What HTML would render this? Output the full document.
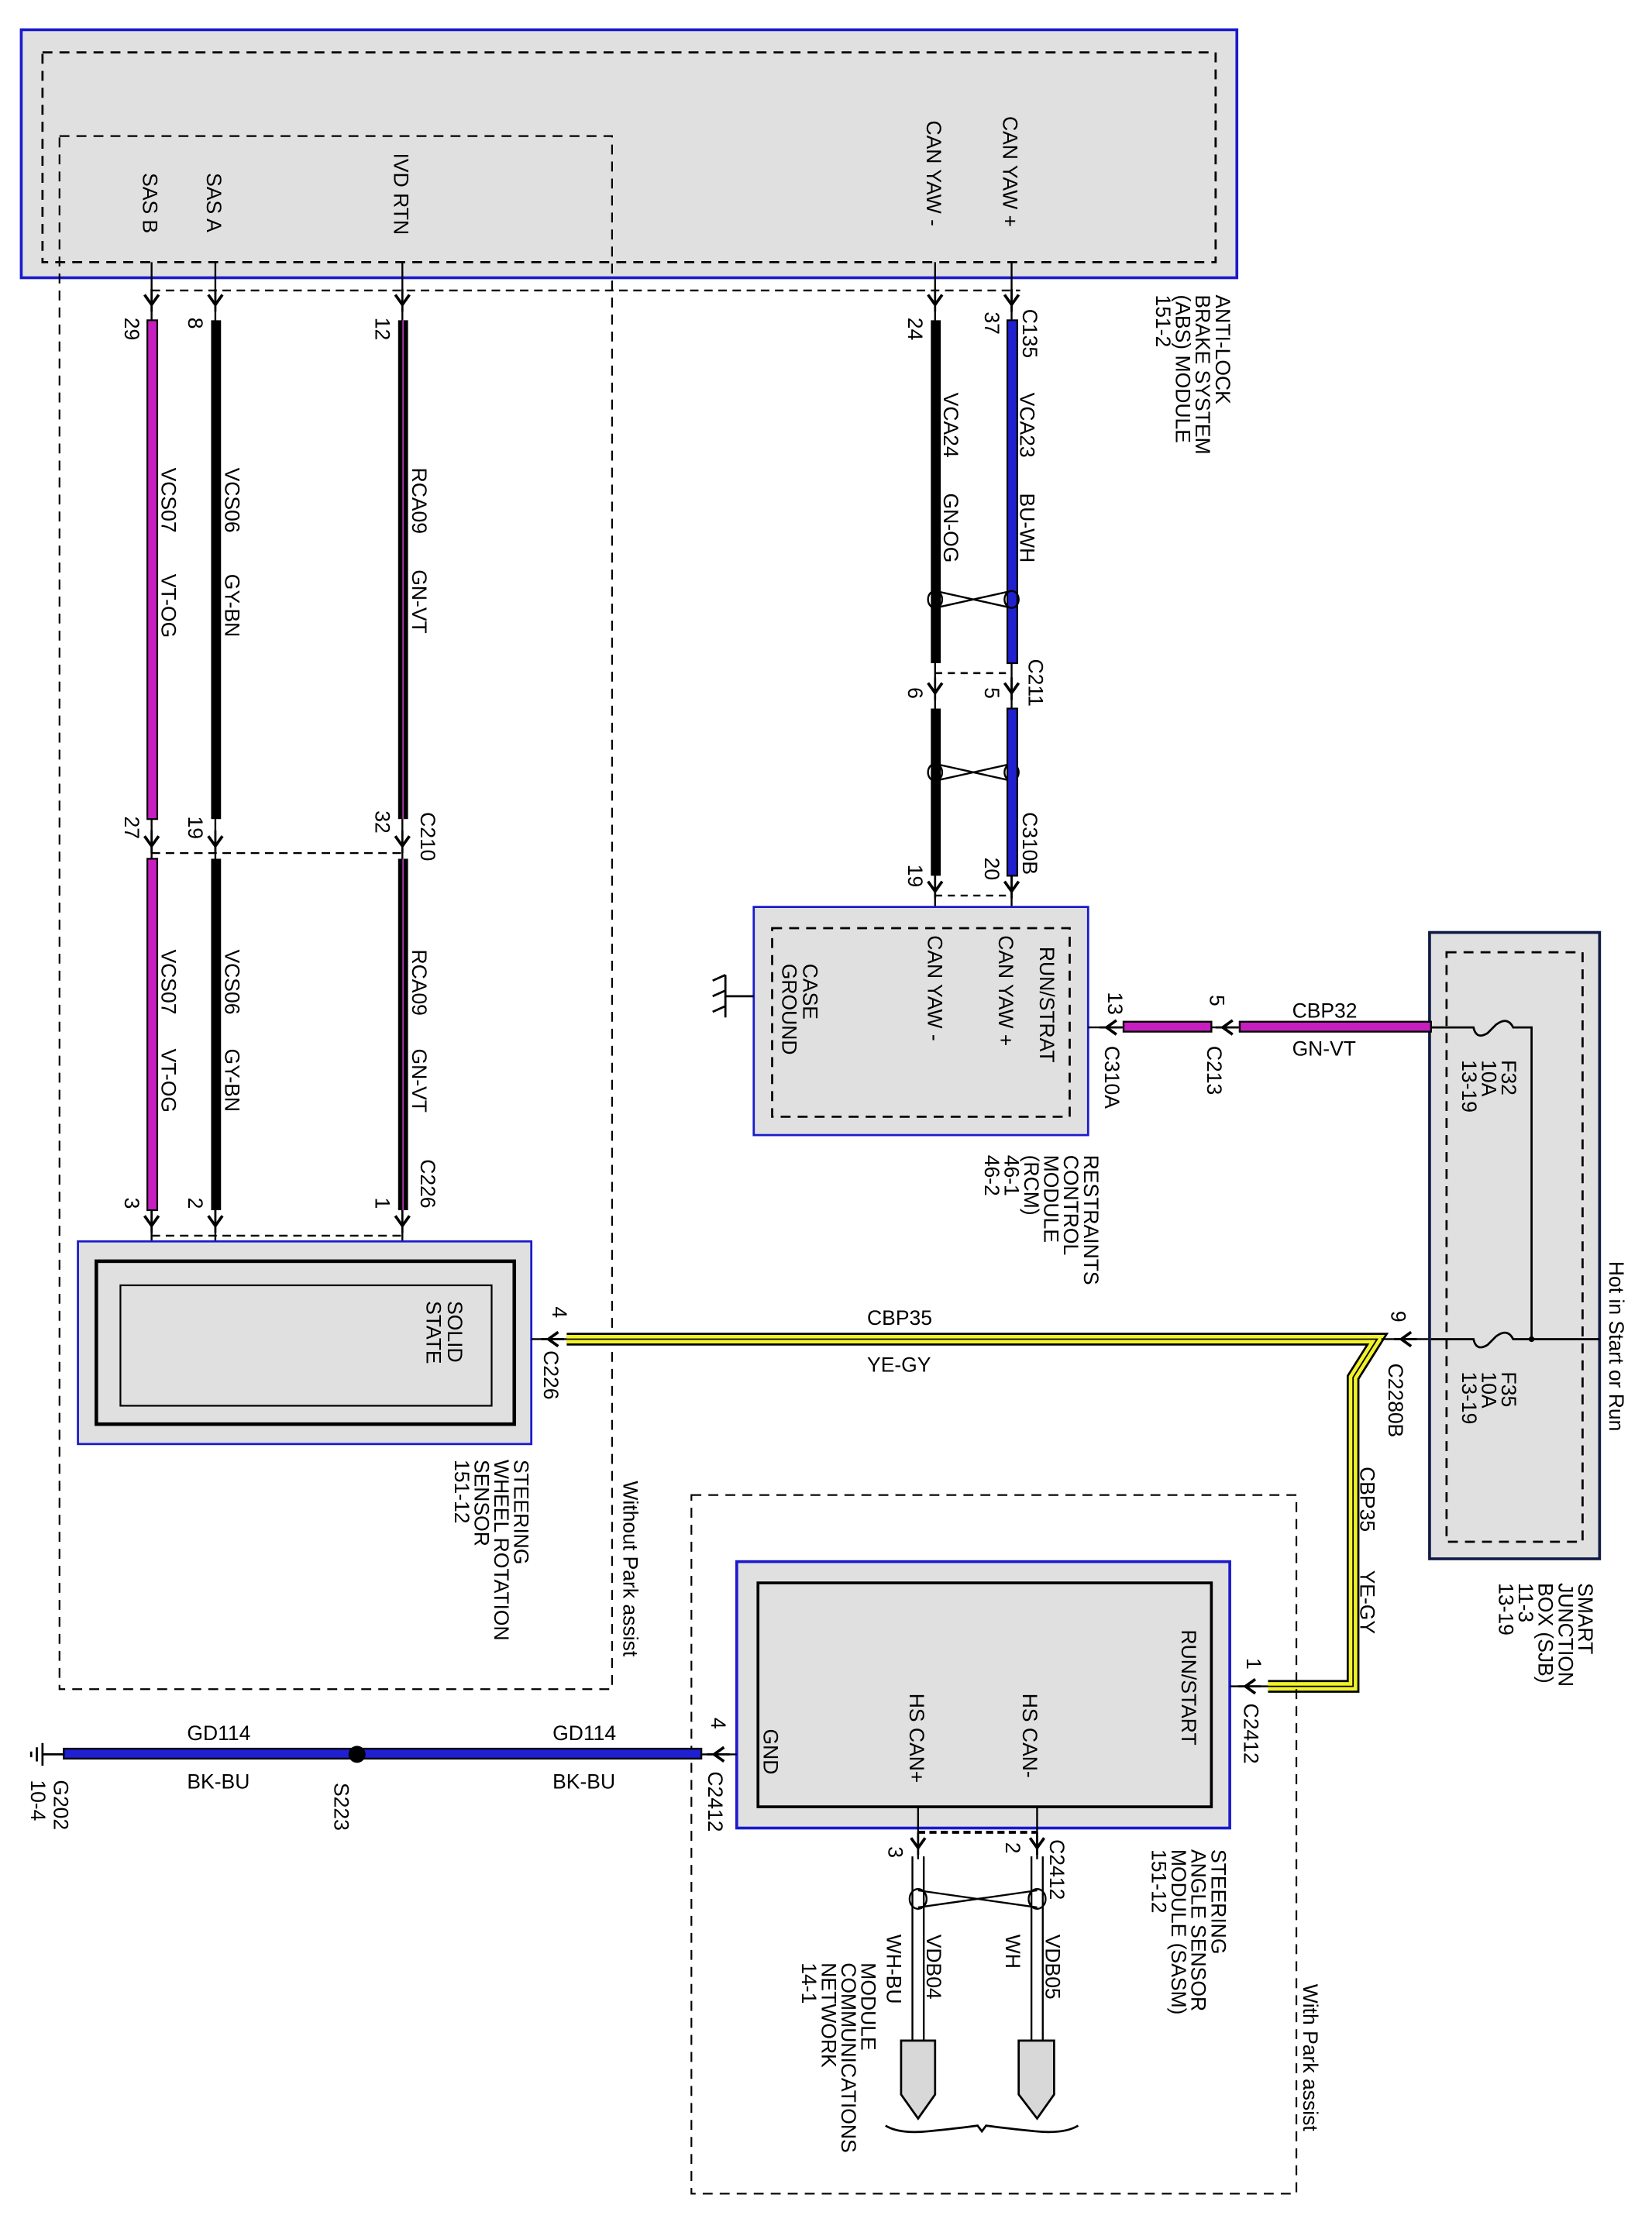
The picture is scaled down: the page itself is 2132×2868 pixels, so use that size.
<!DOCTYPE html>
<html><head><meta charset="utf-8"><style>
html,body{margin:0;padding:0;background:#fff}
svg{display:block}
text{font-family:"Liberation Sans",Arial,sans-serif;font-size:14.5px;fill:#000}
</style></head><body>
<svg width="2132" height="2868" viewBox="0 0 1166 1568" preserveAspectRatio="none" xmlns="http://www.w3.org/2000/svg">
<defs>
<g id="ar"><path d="M-5,-8 L0,-1 L5,-8" fill="none" stroke="#000" stroke-width="2"/><line x1="0" y1="-12" x2="0" y2="4" stroke="#000" stroke-width="1.5"/></g>
<g id="al"><path d="M8,-5 L1,0 L8,5" fill="none" stroke="#000" stroke-width="2"/><line x1="-4" y1="0" x2="12" y2="0" stroke="#000" stroke-width="1.5"/></g>
</defs>

<rect x="15" y="21" width="858" height="175" fill="#e0e0e0" stroke="#1a1acc" stroke-width="2"/>
<rect x="30" y="37" width="828" height="148" fill="none" stroke="#000" stroke-width="1.5" stroke-dasharray="7,5"/>
<rect x="42" y="96" width="390" height="1096" fill="none" stroke="#000" stroke-width="1.2" stroke-dasharray="7,5"/>
<line x1="107" y1="205" x2="720" y2="205" stroke="#000" stroke-width="1.3" stroke-dasharray="6,4"/>

<g>
<text transform="translate(101,122) rotate(90)">SAS B</text>
<text transform="translate(146,122) rotate(90)">SAS A</text>
<text transform="translate(278,108) rotate(90)">IVD RTN</text>
<text transform="translate(654,85) rotate(90)">CAN YAW -</text>
<text transform="translate(708,82) rotate(90)">CAN YAW +</text>
</g>
<g stroke="#000" stroke-width="1.3">
<line x1="107" y1="185" x2="107" y2="228"/><line x1="152" y1="185" x2="152" y2="228"/><line x1="284" y1="185" x2="284" y2="228"/>
<line x1="660" y1="185" x2="660" y2="228"/><line x1="714" y1="185" x2="714" y2="228"/>
</g>
<use href="#ar" x="107" y="216"/><use href="#ar" x="152" y="216"/><use href="#ar" x="284" y="216"/><use href="#ar" x="660" y="216"/><use href="#ar" x="714" y="216"/>
<text transform="translate(88,224) rotate(90)">29</text>
<text transform="translate(133,224) rotate(90)">8</text>
<text transform="translate(265,224) rotate(90)">12</text>
<text transform="translate(641,224) rotate(90)">24</text>
<text transform="translate(695,220) rotate(90)">37</text>
<text transform="translate(722,218) rotate(90)">C135</text>
<text transform="translate(858,208) rotate(90)">ANTI-LOCK</text>
<text transform="translate(844,208) rotate(90)">BRAKE SYSTEM</text>
<text transform="translate(830,208) rotate(90)">(ABS) MODULE</text>
<text transform="translate(816,208) rotate(90)">151-2</text>

<rect x="104" y="226" width="7" height="352" fill="#c71fbf" stroke="#000" stroke-width="1.2"/>
<rect x="149" y="226" width="7" height="352" fill="#000"/>
<rect x="281" y="226" width="7" height="352" fill="#000"/><line x1="284.5" y1="226" x2="284.5" y2="578" stroke="#b03ab0" stroke-width="1"/>
<rect x="657" y="226" width="7" height="242" fill="#000"/>
<rect x="711" y="226" width="7" height="242" fill="#2020d0" stroke="#000" stroke-width="1.2"/>
<text transform="translate(114,330) rotate(90)">VCS07</text><text transform="translate(114,405) rotate(90)">VT-OG</text>
<text transform="translate(159,330) rotate(90)">VCS06</text><text transform="translate(159,405) rotate(90)">GY-BN</text>
<text transform="translate(291,330) rotate(90)">RCA09</text><text transform="translate(291,402) rotate(90)">GN-VT</text>
<text transform="translate(666,277) rotate(90)">VCA24</text><text transform="translate(666,348) rotate(90)">GN-OG</text>
<text transform="translate(720,277) rotate(90)">VCA23</text><text transform="translate(720,348) rotate(90)">BU-WH</text>
<g fill="none" stroke="#000" stroke-width="1.3">
<ellipse cx="660" cy="423" rx="5" ry="6"/><ellipse cx="714" cy="423" rx="5" ry="6"/>
<path d="M660,417 L714,429 M660,429 L714,417"/>
<ellipse cx="660" cy="545" rx="5" ry="6"/><ellipse cx="714" cy="545" rx="5" ry="6"/>
<path d="M660,539 L714,551 M660,551 L714,539"/>
</g>
<line x1="660" y1="475" x2="714" y2="475" stroke="#000" stroke-width="1.5" stroke-dasharray="5,4"/>
<line x1="660" y1="468" x2="660" y2="500" stroke="#000" stroke-width="1.3"/><line x1="714" y1="468" x2="714" y2="500" stroke="#000" stroke-width="1.3"/>
<use href="#ar" x="660" y="490"/><use href="#ar" x="714" y="490"/>
<text transform="translate(641,485) rotate(90)">6</text><text transform="translate(695,485) rotate(90)">5</text>
<text transform="translate(726,465) rotate(90)">C211</text>
<rect x="657" y="500" width="7" height="118" fill="#000"/>
<rect x="711" y="500" width="7" height="118" fill="#2020d0" stroke="#000" stroke-width="1.2"/>
<text transform="translate(641,610) rotate(90)">19</text><text transform="translate(695,605) rotate(90)">20</text>
<text transform="translate(722,573) rotate(90)">C310B</text>
<line x1="660" y1="618" x2="660" y2="655" stroke="#000" stroke-width="1.3"/><line x1="714" y1="618" x2="714" y2="655" stroke="#000" stroke-width="1.3"/>
<use href="#ar" x="660" y="630"/><use href="#ar" x="714" y="630"/>
<line x1="660" y1="632" x2="714" y2="632" stroke="#000" stroke-width="1.3" stroke-dasharray="5,4"/>

<line x1="107" y1="602" x2="284" y2="602" stroke="#000" stroke-width="1.3" stroke-dasharray="6,4"/>
<g stroke="#000" stroke-width="1.3"><line x1="107" y1="578" x2="107" y2="608"/><line x1="152" y1="578" x2="152" y2="608"/><line x1="284" y1="578" x2="284" y2="608"/></g>
<use href="#ar" x="107" y="598"/><use href="#ar" x="152" y="598"/><use href="#ar" x="284" y="598"/>
<text transform="translate(88,576) rotate(90)">27</text><text transform="translate(133,576) rotate(90)">19</text><text transform="translate(265,572) rotate(90)">32</text>
<text transform="translate(297,573) rotate(90)">C210</text>
<rect x="104" y="606" width="7" height="248" fill="#c71fbf" stroke="#000" stroke-width="1.2"/>
<rect x="149" y="606" width="7" height="248" fill="#000"/>
<rect x="281" y="606" width="7" height="248" fill="#000"/><line x1="284.5" y1="606" x2="284.5" y2="854" stroke="#b03ab0" stroke-width="1"/>
<text transform="translate(114,670) rotate(90)">VCS07</text><text transform="translate(114,740) rotate(90)">VT-OG</text>
<text transform="translate(159,670) rotate(90)">VCS06</text><text transform="translate(159,740) rotate(90)">GY-BN</text>
<text transform="translate(291,670) rotate(90)">RCA09</text><text transform="translate(291,740) rotate(90)">GN-VT</text>
<text transform="translate(88,845) rotate(90)">3</text><text transform="translate(133,845) rotate(90)">2</text><text transform="translate(265,845) rotate(90)">1</text>
<text transform="translate(297,818) rotate(90)">C226</text>
<g stroke="#000" stroke-width="1.3"><line x1="107" y1="854" x2="107" y2="907"/><line x1="152" y1="854" x2="152" y2="907"/><line x1="284" y1="854" x2="284" y2="907"/></g>
<use href="#ar" x="107" y="866"/><use href="#ar" x="152" y="866"/><use href="#ar" x="284" y="866"/>
<line x1="107" y1="872" x2="284" y2="872" stroke="#000" stroke-width="1.3" stroke-dasharray="6,4"/>

<rect x="55" y="876" width="320" height="143" fill="#e0e0e0" stroke="#1a1acc" stroke-width="1.5"/>
<rect x="68" y="890" width="295" height="115" fill="none" stroke="#000" stroke-width="2.5"/>
<rect x="85" y="907" width="262" height="85" fill="none" stroke="#000" stroke-width="1.2"/>
<text transform="translate(316,918) rotate(90)">SOLID</text><text transform="translate(301,918) rotate(90)">STATE</text>
<text transform="translate(363,1030) rotate(90)">STEERING</text>
<text transform="translate(349,1030) rotate(90)">WHEEL ROTATION</text>
<text transform="translate(335,1030) rotate(90)">SENSOR</text>
<text transform="translate(321,1030) rotate(90)">151-12</text>
<text transform="translate(440,1045) rotate(90)">Without Park assist</text>

<line x1="375" y1="945" x2="400" y2="945" stroke="#000" stroke-width="1.3"/>
<use href="#al" x="386" y="945"/>
<text transform="translate(390,922) rotate(90)">4</text>
<text transform="translate(384,953) rotate(90)">C226</text>
<path d="M400,945 L972,945 L955,972 L955,1190 L895,1190" fill="none" stroke="#000" stroke-width="9"/>
<path d="M400,945 L972,945 L955,972 L955,1190 L895,1190" fill="none" stroke="#f2f22a" stroke-width="6"/>
<path d="M400,945 L972,945 L955,972 L955,1190 L895,1190" fill="none" stroke="#000" stroke-width="1"/>
<text x="612" y="935">CBP35</text><text x="612" y="968">YE-GY</text>
<text transform="translate(960,1035) rotate(90)">CBP35</text>
<text transform="translate(960,1108) rotate(90)">YE-GY</text>
<line x1="975" y1="945" x2="1010" y2="945" stroke="#000" stroke-width="1.3"/>
<use href="#al" x="988" y="945"/>
<text transform="translate(982,925) rotate(90)">9</text>
<text transform="translate(980,962) rotate(90)">C2280B</text>

<rect x="1009" y="658" width="120" height="442" fill="#e0e0e0" stroke="#111a44" stroke-width="2"/>
<rect x="1021" y="672" width="96" height="416" fill="none" stroke="#000" stroke-width="1.5" stroke-dasharray="7,5"/>
<g fill="none" stroke="#000" stroke-width="1.5">
<path d="M1010,725 L1040,725 q2,9 10,4 q3,-3 6,-6 q8,-6 12,2 L1081,725 L1081,945"/>
<path d="M1010,945 L1040,945 q2,9 10,4 q3,-3 6,-6 q8,-6 12,2 L1129,945"/>
</g>
<circle cx="1081" cy="945" r="2" fill="#000"/>
<text transform="translate(1060,748) rotate(90)">F32</text><text transform="translate(1046,748) rotate(90)">10A</text><text transform="translate(1032,748) rotate(90)">13-19</text>
<text transform="translate(1060,968) rotate(90)">F35</text><text transform="translate(1046,968) rotate(90)">10A</text><text transform="translate(1032,968) rotate(90)">13-19</text>
<text transform="translate(1136,890) rotate(90)">Hot in Start or Run</text>
<text transform="translate(1114,1117) rotate(90)">SMART</text>
<text transform="translate(1100,1117) rotate(90)">JUNCTION</text>
<text transform="translate(1086,1117) rotate(90)">BOX (SJB)</text>
<text transform="translate(1072,1117) rotate(90)">11-3</text>
<text transform="translate(1058,1117) rotate(90)">13-19</text>

<rect x="532" y="640" width="236" height="161" fill="#e0e0e0" stroke="#1a1acc" stroke-width="1.5"/>
<rect x="545" y="655" width="210" height="133" fill="none" stroke="#000" stroke-width="1.5" stroke-dasharray="7,5"/>
<text transform="translate(734,668) rotate(90)">RUN/STRAT</text>
<text transform="translate(705,660) rotate(90)">CAN YAW +</text>
<text transform="translate(655,660) rotate(90)">CAN YAW -</text>
<text transform="translate(567,680) rotate(90)">CASE</text>
<text transform="translate(552,680) rotate(90)">GROUND</text>
<g stroke="#000" stroke-width="1.5" fill="none"><path d="M532,703 L512,703 M512,688 L512,718 M503,692 L512,688 M503,703 L512,699 M503,714 L512,710"/></g>
<text transform="translate(765,815) rotate(90)">RESTRAINTS</text>
<text transform="translate(751,815) rotate(90)">CONTROL</text>
<text transform="translate(737,815) rotate(90)">MODULE</text>
<text transform="translate(723,815) rotate(90)">(RCM)</text>
<text transform="translate(709,815) rotate(90)">46-1</text>
<text transform="translate(695,815) rotate(90)">46-2</text>
<line x1="768" y1="725" x2="795" y2="725" stroke="#000" stroke-width="1.3"/>
<use href="#al" x="780" y="725"/>
<text transform="translate(782,700) rotate(90)">13</text>
<text transform="translate(780,738) rotate(90)">C310A</text>
<rect x="793" y="721" width="62" height="7" fill="#c71fbf" stroke="#000" stroke-width="1.3"/>
<line x1="855" y1="725" x2="875" y2="725" stroke="#000" stroke-width="1.3"/>
<use href="#al" x="862" y="725"/>
<text transform="translate(854,702) rotate(90)">5</text>
<text transform="translate(852,738) rotate(90)">C213</text>
<rect x="875" y="721" width="135" height="7" fill="#c71fbf" stroke="#000" stroke-width="1.3"/>
<text x="912" y="718">CBP32</text><text x="912" y="745">GN-VT</text>

<rect x="488" y="1055" width="427" height="493" fill="none" stroke="#000" stroke-width="1.2" stroke-dasharray="7,5"/>
<text transform="translate(920,1400) rotate(90)">With Park assist</text>
<rect x="520" y="1102" width="348" height="188" fill="#e0e0e0" stroke="#1a1acc" stroke-width="2"/>
<rect x="535" y="1117" width="320" height="158" fill="none" stroke="#000" stroke-width="2"/>
<text transform="translate(834,1150) rotate(90)">RUN/START</text>
<text transform="translate(722,1195) rotate(90)">HS CAN-</text>
<text transform="translate(642,1195) rotate(90)">HS CAN+</text>
<text transform="translate(539,1220) rotate(90)">GND</text>
<line x1="868" y1="1190" x2="895" y2="1190" stroke="#000" stroke-width="1.3"/>
<use href="#al" x="878" y="1190"/>
<text transform="translate(880,1170) rotate(90)">1</text>
<text transform="translate(878,1202) rotate(90)">C2412</text>
<text transform="translate(855,1305) rotate(90)">STEERING</text>
<text transform="translate(841,1305) rotate(90)">ANGLE SENSOR</text>
<text transform="translate(827,1305) rotate(90)">MODULE (SASM)</text>
<text transform="translate(813,1305) rotate(90)">151-12</text>

<line x1="495" y1="1238" x2="520" y2="1238" stroke="#000" stroke-width="1.3"/>
<use href="#al" x="503" y="1238"/>
<text transform="translate(502,1212) rotate(90)">4</text>
<text transform="translate(500,1250) rotate(90)">C2412</text>
<rect x="45" y="1234" width="450" height="7" fill="#2020d0" stroke="#000" stroke-width="1.3"/>
<circle cx="252" cy="1238" r="6" fill="#000"/>
<text x="132" y="1228">GD114</text><text x="132" y="1262">BK-BU</text>
<text x="390" y="1228">GD114</text><text x="390" y="1262">BK-BU</text>
<text transform="translate(236,1258) rotate(90)">S223</text>
<g stroke="#000" stroke-width="1.5"><line x1="30" y1="1238" x2="45" y2="1238"/><line x1="30" y1="1230" x2="30" y2="1246"/><line x1="26" y1="1233" x2="26" y2="1243"/><line x1="22" y1="1236" x2="22" y2="1240"/></g>
<text transform="translate(38,1256) rotate(90)">G202</text>
<text transform="translate(22,1256) rotate(90)">10-4</text>

<g stroke="#000" stroke-width="1.3" fill="none">
<line x1="648" y1="1275" x2="648" y2="1312"/><line x1="732" y1="1275" x2="732" y2="1312"/>
<line x1="648" y1="1293" x2="732" y2="1293" stroke-width="2" stroke-dasharray="5,3"/>
<line x1="644" y1="1310" x2="644" y2="1440"/><line x1="652" y1="1310" x2="652" y2="1440"/>
<line x1="728" y1="1310" x2="728" y2="1440"/><line x1="736" y1="1310" x2="736" y2="1440"/>
<ellipse cx="648" cy="1340" rx="6" ry="7"/><ellipse cx="732" cy="1340" rx="6" ry="7"/>
<path d="M648,1334 L732,1346 M648,1346 L732,1334"/>
<line x1="648" y1="1440" x2="648" y2="1458"/><line x1="732" y1="1440" x2="732" y2="1458"/>
</g>
<use href="#ar" x="648" y="1305"/><use href="#ar" x="732" y="1305"/>
<text transform="translate(627,1303) rotate(90)">3</text><text transform="translate(710,1300) rotate(90)">2</text>
<text transform="translate(741,1298) rotate(90)">C2412</text>
<text transform="translate(654,1365) rotate(90)">VDB04</text>
<text transform="translate(626,1365) rotate(90)">WH-BU</text>
<text transform="translate(738,1365) rotate(90)">VDB05</text>
<text transform="translate(710,1365) rotate(90)">WH</text>
<path d="M636,1440 L660,1440 L660,1478 L648,1495 L636,1478 Z" fill="#d8d8d8" stroke="#000" stroke-width="1.5"/>
<path d="M719,1440 L744,1440 L744,1478 L732,1495 L719,1478 Z" fill="#d8d8d8" stroke="#000" stroke-width="1.5"/>
<path d="M625,1500 q10,6 30,4 q20,-2 35,-4 l3,4 l3,-4 q15,2 35,4 q20,2 30,-4" fill="none" stroke="#000" stroke-width="1.5"/>
<text transform="translate(608,1385) rotate(90)">MODULE</text>
<text transform="translate(594,1385) rotate(90)">COMMUNICATIONS</text>
<text transform="translate(580,1385) rotate(90)">NETWORK</text>
<text transform="translate(566,1385) rotate(90)">14-1</text>
</svg>
</body></html>
